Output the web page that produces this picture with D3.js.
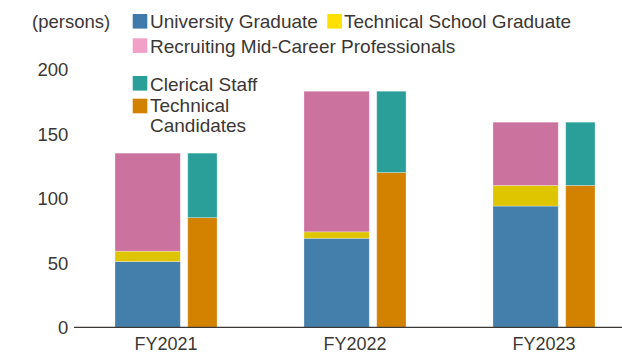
<!DOCTYPE html>
<html>
<head>
<meta charset="utf-8">
<script src="https://cdn.jsdelivr.net/npm/d3@7"></script>
<style>
  html, body { margin: 0; padding: 0; background: #fff; }
  svg { display: block; }
  text { font-family: "Liberation Sans", Arial, Helvetica, sans-serif; fill: #3b3735; }
</style>
</head>
<body>
<svg id="chart" width="622" height="353"></svg>
<script>
// Hiring by fiscal year (persons)
const years = ["FY2021", "FY2022", "FY2023"];

// Left bar: hires by background (stacked bottom to top)
const universityGraduate   = [51, 69, 94];
const technicalSchoolGrad  = [8, 5, 16];
const midCareerRecruits    = [76, 109, 49];

// Right bar: hires by job type (stacked bottom to top)
const technicalCandidates  = [85, 120, 110];
const clericalStaff        = [50, 63, 49];

const yTicks = [0, 50, 100, 150, 200];

const legendNames = [
  "University Graduate",
  "Technical School Graduate",
  "Recruiting Mid-Career Professionals",
  "Clerical Staff",
  "Technical"
];

const barColors = {
  uni: "#447fab", tech: "#dfc400", mid: "#cc729e",
  cler: "#2a9f99", cand: "#d38200"
};
const legendColors = ["#3f7aaa", "#ffe000", "#f2a0c8", "#2a9f99", "#d38200"];

const svg = d3.select("#chart");

const y = d3.scaleLinear().domain([0, 200]).range([327.3, 69.3]);
const x = d3.scaleBand().domain(years).range([74, 636])
  .paddingInner(0.46).paddingOuter(0.217);

// Bar geometry within each band: wide stacked bar, gap, narrow stacked bar
const bw = x.bandwidth();
const leftW = bw * 0.64, gapW = bw * 0.073, rightW = bw - leftW - gapW;

const leftRows = years.map((yr, i) => ({ year: yr, uni: universityGraduate[i], tech: technicalSchoolGrad[i], mid: midCareerRecruits[i] }));
const rightRows = years.map((yr, i) => ({ year: yr, cand: technicalCandidates[i], cler: clericalStaff[i] }));

const leftStack = d3.stack().keys(["uni", "tech", "mid"])(leftRows);
const rightStack = d3.stack().keys(["cand", "cler"])(rightRows);

function drawStack(series, xOffset, width) {
  svg.append("g").selectAll("g")
    .data(series).join("g")
    .attr("fill", d => barColors[d.key])
    .selectAll("rect")
    .data(d => d).join("rect")
    .attr("x", d => x(d.data.year) + xOffset)
    .attr("width", width)
    .attr("y", d => y(d[1]))
    .attr("height", d => y(d[0]) - y(d[1]))
    .attr("stroke", "rgba(255,255,255,0.35)")
    .attr("stroke-width", 0.8);
}
drawStack(leftStack, 0, leftW);
drawStack(rightStack, leftW + gapW, rightW);

// Baseline
svg.append("line")
  .attr("x1", 74).attr("x2", 622)
  .attr("y1", y(0)).attr("y2", y(0))
  .attr("stroke", "#3b3735").attr("stroke-width", 1.3);

// Y tick labels (no axis line, no tick marks)
const yAxis = d3.axisLeft(y).tickValues(yTicks).tickSize(0).tickPadding(0);
const gy = svg.append("g").attr("transform", "translate(68.3,0)").call(yAxis);
gy.select(".domain").remove();
gy.selectAll("text")
  .attr("font-size", "18.5px")
  .attr("font-family", "Liberation Sans, Arial, sans-serif")
  .attr("fill", "#3b3735")
  .attr("dy", "0.36em");

// X category labels
const xAxis = d3.axisBottom(x).tickSize(0).tickPadding(0);
const gx = svg.append("g").attr("transform", `translate(0,${y(0)})`).call(xAxis);
gx.select(".domain").remove();
gx.selectAll("text")
  .attr("font-size", "18px")
  .attr("font-family", "Liberation Sans, Arial, sans-serif")
  .attr("fill", "#3b3735")
  .attr("y", 23).attr("dy", 0);

// Unit label
svg.append("text").attr("x", 32).attr("y", 27.5)
  .attr("font-size", "18.5px").text("(persons)");

// Legend
const legendItems = [
  { name: legendNames[0], color: legendColors[0], sx: 132.7, sy: 14, tx: 150, ty: 28.3 },
  { name: legendNames[1], color: legendColors[1], sx: 327.3, sy: 14, tx: 344, ty: 28.3 },
  { name: legendNames[2], color: legendColors[2], sx: 132.7, sy: 38.3, tx: 150, ty: 52.8 },
  { name: legendNames[3], color: legendColors[3], sx: 132.7, sy: 76, tx: 150, ty: 90.5 },
  { name: legendNames[4], color: legendColors[4], sx: 132.7, sy: 98.7, tx: 150, ty: 111.7 }
];
const lg = svg.append("g");
legendItems.forEach(d => {
  lg.append("rect").attr("x", d.sx).attr("y", d.sy)
    .attr("width", 14.6).attr("height", 14.6).attr("fill", d.color);
  lg.append("text").attr("x", d.tx).attr("y", d.ty)
    .attr("font-size", "19px").text(d.name);
});
lg.append("text").attr("x", 150).attr("y", 131.7)
  .attr("font-size", "19px").text("Candidates");
</script>
</body>
</html>
